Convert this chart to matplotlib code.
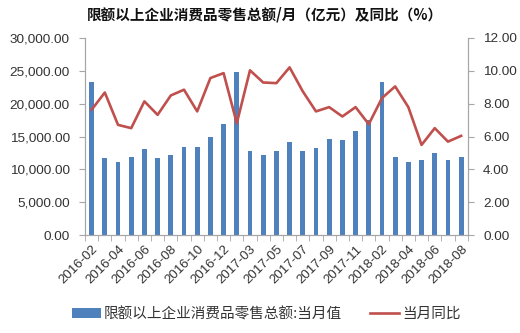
import numpy as np
import matplotlib
matplotlib.use("Agg")
import matplotlib.pyplot as plt
from matplotlib.patches import Patch
from matplotlib.lines import Line2D
from matplotlib.ticker import FuncFormatter

plt.rcParams['font.family'] = ['Noto Sans CJK SC', 'DejaVu Sans']

# months (Jan-Feb combined into "-02")
months = ['2016-02', '2016-03', '2016-04', '2016-05', '2016-06', '2016-07', '2016-08',
          '2016-09', '2016-10', '2016-11', '2016-12',
          '2017-02', '2017-03', '2017-04', '2017-05', '2017-06', '2017-07', '2017-08',
          '2017-09', '2017-10', '2017-11', '2017-12',
          '2018-02', '2018-03', '2018-04', '2018-05', '2018-06', '2018-07', '2018-08']
retail = [23240, 11690, 11190, 11850, 13070, 11690, 12200,
          13470, 13470, 14900, 16930,
          24760, 12860, 12250, 12860, 14190, 12760, 13220,
          14640, 14440, 15810, 17500,
          23290, 11850, 11190, 11440, 12460, 11440, 11850]
yoy = [7.63, 8.68, 6.71, 6.51, 8.14, 7.32, 8.50,
       8.85, 7.53, 9.56, 9.86,
       6.81, 10.03, 9.29, 9.25, 10.21, 8.75, 7.53,
       7.79, 7.22, 7.79, 6.75,
       8.34, 9.05, 7.79, 5.49, 6.51, 5.69, 6.04]

title = '限额以上企业消费品零售总额/月（亿元）及同比（%）'
bar_label = '限额以上企业消费品零售总额:当月值'
line_label = '当月同比'

blue = '#4F81BD'
red = '#C0504D'
axis_gray = '#A6A6A6'
text_col = '#333333'
num_font = 'Liberation Sans'

fig = plt.figure(figsize=(5.2, 3.33), dpi=100)
ax = fig.add_axes([0.1635, 0.294, 0.736, 0.592])
ax2 = ax.twinx()

x = np.arange(len(months))
ax.bar(x, retail, width=0.36, color=blue, zorder=2)
ax2.plot(x, yoy, color=red, lw=1.9, zorder=3)

ax.set_xlim(-0.5, len(months) - 0.5)
ax.set_ylim(0, 30000)
ax.set_yticks(np.arange(0, 30001, 5000))
ax.yaxis.set_major_formatter(FuncFormatter(lambda v, p: f'{v:,.2f}'))
ax2.set_ylim(0, 12)
ax2.set_yticks(np.arange(0, 12.01, 2))
ax2.yaxis.set_major_formatter(FuncFormatter(lambda v, p: f'{v:.2f}'))

ax.set_xticks(x[::2])
ax.set_xticklabels(months[::2], rotation=45, ha='right', rotation_mode='anchor')
ax.set_xticks(np.arange(-0.5, len(months), 1), minor=True)
ax.tick_params(axis='x', which='major', length=0, pad=6)
ax.tick_params(axis='x', which='minor', length=4, color=axis_gray)

for a in (ax, ax2):
    a.set_zorder(1)
    a.spines['top'].set_visible(False)
    for s in ('left', 'right', 'bottom'):
        a.spines[s].set_color(axis_gray)
    a.tick_params(axis='y', length=4, color=axis_gray, labelsize=9.7,
                  labelcolor=text_col, pad=7)
    a.tick_params(axis='x', labelsize=9.5, labelcolor=text_col)
    for lab in a.get_yticklabels() + a.get_xticklabels():
        lab.set_fontfamily(num_font)
ax2.set_zorder(2)
ax2.patch.set_visible(False)

fig.text(0.51, 0.955, title, ha='center', va='center', fontsize=10.5,
         fontweight='bold', color='#111111')

handles = [Patch(facecolor=blue, edgecolor='none'),
           Line2D([], [], color=red, lw=1.9)]
fig.legend(handles, [bar_label, line_label], loc='center', bbox_to_anchor=(0.512, 0.057),
           ncol=2, frameon=False, fontsize=10.5, labelcolor=text_col,
           handlelength=2.0, handleheight=0.6, columnspacing=1.9, handletextpad=0.2)

fig.savefig('out.png', dpi=100)
